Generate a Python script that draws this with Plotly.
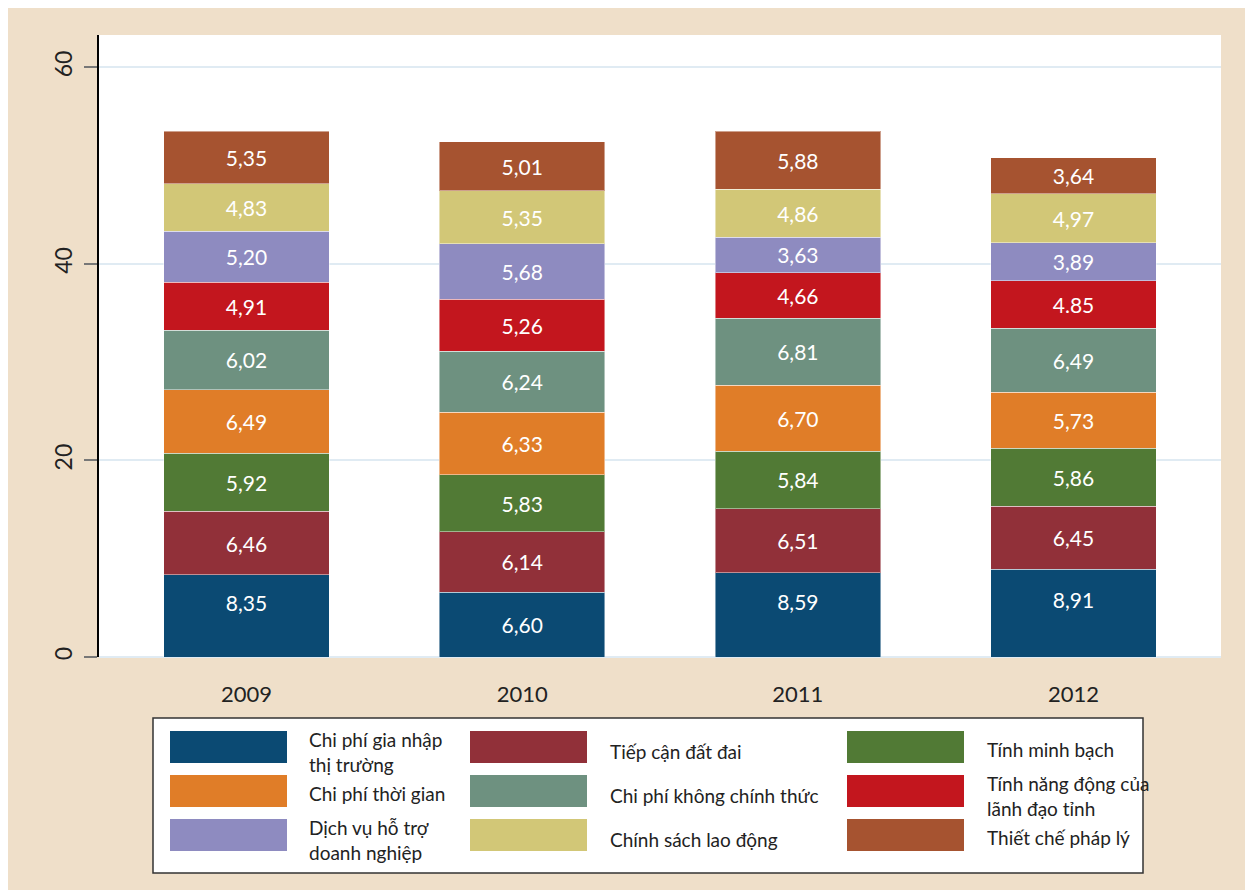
"""
Chỉ số thành phần PCI, 2009-2012
Biểu đồ cột chồng
"""

import plotly.graph_objects as go

years = ["2009", "2010", "2011", "2012"]

series_names = [
    "Chi phí gia nhập thị trường",
    "Tiếp cận đất đai",
    "Tính minh bạch",
    "Chi phí thời gian",
    "Chi phí không chính thức",
    "Tính năng động của lãnh đạo tỉnh",
    "Dịch vụ hỗ trợ doanh nghiệp",
    "Chính sách lao động",
    "Thiết chế pháp lý",
]

gia_nhap = [8.35, 6.60, 8.59, 8.91]
dat_dai = [6.46, 6.14, 6.51, 6.45]
minh_bach = [5.92, 5.83, 5.84, 5.86]
thoi_gian = [6.49, 6.33, 6.70, 5.73]
khong_chinh_thuc = [6.02, 6.24, 6.81, 6.49]
nang_dong = [4.91, 5.26, 4.66, 4.85]
ho_tro = [5.20, 5.68, 3.63, 3.89]
lao_dong = [4.83, 5.35, 4.86, 4.97]
phap_ly = [5.35, 5.01, 5.88, 3.64]

values = [gia_nhap, dat_dai, minh_bach, thoi_gian, khong_chinh_thuc,
          nang_dong, ho_tro, lao_dong, phap_ly]

colors = ["#0b4a73", "#913039", "#517a35", "#e07d28", "#6e9180",
          "#c3161e", "#8e8bc0", "#d2c777", "#a65330"]

# nhãn trong hình dùng dấu phẩy, riêng 1 ô dùng dấu chấm
label_override = {(5, 3): "4.85"}
# nhãn cột dưới cùng nằm cao hơn tâm ô (thêm dòng trống bên dưới)
raised_labels = {(0, 0), (0, 2), (0, 3)}

# chú giải: (tên hiển thị, chỉ số màu, cột, hàng)
legend_items = [
    ("Chi phí gia nhập<br>thị trường", 0, 0, 0),
    ("Chi phí thời gian", 3, 0, 1),
    ("Dịch vụ hỗ trợ<br>doanh nghiệp", 6, 0, 2),
    ("Tiếp cận đất đai", 1, 1, 0),
    ("Chi phí không chính thức", 4, 1, 1),
    ("Chính sách lao động", 7, 1, 2),
    ("Tính minh bạch", 2, 2, 0),
    ("Tính năng động của<br>lãnh đạo tỉnh", 5, 2, 1),
    ("Thiết chế pháp lý", 8, 2, 2),
]

FONT = "Lato, 'Open Sans', sans-serif"
OFF = 8  # lề mặc định của trang html
W, H = 1253 - OFF, 890 - OFF
L, R, T, B = 99 - OFF, 32, 35 - OFF, 233
PW, PH = W - L - R, H - T - B


# toạ độ pixel trên trang -> toạ độ paper
def px_x(x):
    return (x - OFF - L) / PW


def px_y(y):
    return (H - B - (y - OFF)) / PH


fig = go.Figure()

for i, (name, vals, col) in enumerate(zip(series_names, values, colors)):
    texts = []
    for j, v in enumerate(vals):
        t = label_override.get((i, j), f"{v:.2f}".replace(".", ","))
        if (i, j) in raised_labels:
            t += "<br>\u00a0"
        texts.append(t)
    fig.add_trace(go.Bar(
        x=years,
        y=vals,
        name=name,
        marker=dict(color=col, line=dict(color="rgba(255,255,255,0.45)", width=1)),
        text=texts,
        textposition="inside",
        insidetextanchor="middle",
        textangle=0,
        constraintext="none",
        textfont=dict(color="white", size=21, family=FONT),
        width=0.6,
        showlegend=False,
        hoverinfo="skip",
    ))

shapes = [
    # hộp chú giải
    dict(type="rect", xref="paper", yref="paper",
         x0=px_x(153), x1=px_x(1143), y0=px_y(873), y1=px_y(718),
         fillcolor="white", line=dict(color="#333", width=1.5)),
]
annotations = []

col_sw = [170, 470, 847]
col_txt = [307, 608, 985]
row_top = [731, 775, 819]
sw_w, sw_h = 117, 32

for label, idx, c, r in legend_items:
    x0 = col_sw[c]
    y0 = row_top[r]
    shapes.append(dict(
        type="rect", xref="paper", yref="paper",
        x0=px_x(x0), x1=px_x(x0 + sw_w), y0=px_y(y0 + sw_h), y1=px_y(y0),
        fillcolor=colors[idx], line=dict(width=0),
    ))
    two_lines = "<br>" in label
    yc = y0 + sw_h / 2 + (5 if two_lines else 2)
    if c == 1:
        yc += 2
    annotations.append(dict(
        xref="paper", yref="paper", x=px_x(col_txt[c]), y=px_y(yc),
        text=label, showarrow=False, xanchor="left", yanchor="middle",
        align="left", font=dict(size=19, color="#222", family=FONT),
    ))

fig.update_layout(
    width=W,
    height=H,
    barmode="stack",
    bargap=0.4,
    paper_bgcolor="#efdfc9",
    plot_bgcolor="white",
    margin=dict(l=L, r=R, t=T, b=B, autoexpand=False),
    font=dict(family=FONT, color="#222"),
    shapes=shapes,
    annotations=annotations,
)

fig.update_xaxes(
    range=[-0.535, 3.535],
    showgrid=False,
    showline=False,
    ticks="outside",
    ticklen=18,
    tickcolor="rgba(0,0,0,0)",
    tickfont=dict(size=22, color="#222", family=FONT),
)

fig.update_yaxes(
    range=[0, 63.3],
    tickvals=[0, 20, 40, 60],
    showgrid=True,
    gridcolor="#e0ebf3",
    gridwidth=2,
    zeroline=True,
    zerolinecolor="#e0ebf3",
    zerolinewidth=2,
    showline=True,
    linecolor="black",
    linewidth=1.5,
    ticks="outside",
    ticklen=13,
    tickwidth=1.5,
    tickcolor="#777",
    tickangle=-90,
    ticklabelstandoff=3,
    tickfont=dict(size=23, color="#222", family=FONT),
)

fig.write_html("out.html")
